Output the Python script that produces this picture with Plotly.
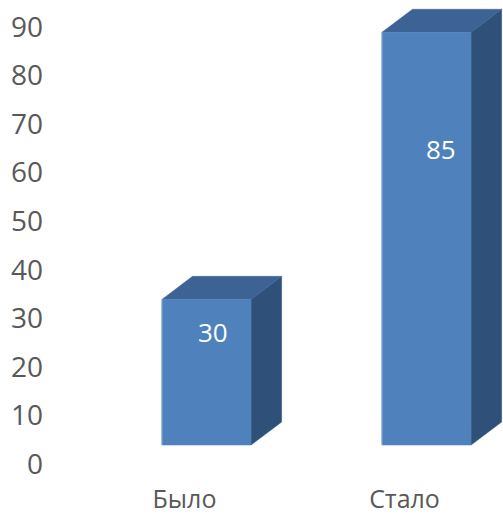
import plotly.graph_objects as go

# ---- data ----
categories = ["Было", "Стало"]
values = [30, 85]
y_ticks = [0, 10, 20, 30, 40, 50, 60, 70, 80, 90]

# ---- 3D styling constants (in axis units) ----
FRONT_OFF = 0.1      # front face centre offset from category position
FRONT_W = 0.405      # front face width
DEPTH_X = 0.139      # depth shift, x
DEPTH_Y = 4.74       # depth shift, y
FLOOR = 3.9          # front-face floor offset
LABEL_FRAC = [0.907, 0.762]  # data-label vertical placement (fraction of value)

C_FRONT = "#4F81BD"
C_TOP = "#3D6294"
C_SIDE = "#2F5179"

fig = go.Figure()
xs = list(range(len(categories)))
for i, v in zip(xs, values):
    x0 = i + FRONT_OFF - FRONT_W / 2
    x1 = i + FRONT_OFF + FRONT_W / 2
    yb = FLOOR
    yt = FLOOR + v
    # side face
    fig.add_trace(go.Scatter(
        x=[x1, x1, x1 + DEPTH_X, x1 + DEPTH_X, x1],
        y=[yb, yt, yt + DEPTH_Y, yb + DEPTH_Y, yb],
        fill="toself", fillcolor=C_SIDE, mode="lines",
        line=dict(color=C_SIDE, width=0.5), hoverinfo="skip"))
    # top face
    fig.add_trace(go.Scatter(
        x=[x0, x0 + DEPTH_X, x1 + DEPTH_X, x1, x0],
        y=[yt, yt + DEPTH_Y, yt + DEPTH_Y, yt, yt],
        fill="toself", fillcolor=C_TOP, mode="lines",
        line=dict(color=C_TOP, width=0.5), hoverinfo="skip"))
    # front face
    fig.add_trace(go.Scatter(
        x=[x0, x1, x1, x0, x0],
        y=[yb, yb, yt, yt, yb],
        fill="toself", fillcolor=C_FRONT, mode="lines",
        line=dict(color=C_FRONT, width=0.5), hoverinfo="skip"))
    # light left edge of the front face
    fig.add_trace(go.Scatter(
        x=[x0, x0], y=[yb, yt], mode="lines",
        line=dict(color="#8FB0DA", width=1), hoverinfo="skip"))

label_xshift = [6, 14]
for i, (v, f) in enumerate(zip(values, LABEL_FRAC)):
    fig.add_annotation(x=i + FRONT_OFF, y=v * f, text=str(v), showarrow=False,
                       xshift=label_xshift[i],
                       font=dict(family="Open Sans", size=26, color="white"))

L = 48
fig.update_layout(
    width=503, height=516,
    margin=dict(l=L, r=0, t=0, b=36, autoexpand=False),
    paper_bgcolor="white", plot_bgcolor="white",
    showlegend=False,
    xaxis=dict(range=[(L - 184.5) / 220, (503 - 184.5) / 220], automargin=False,
               tickvals=xs, ticktext=categories, showgrid=False, zeroline=False,
               showline=False, ticks="", ticklabelstandoff=2,
               tickfont=dict(family="Open Sans", size=25, color="#595959")),
    yaxis=dict(range=[-3.295, 95.55], tickvals=y_ticks, showgrid=False, automargin=False,
               zeroline=False, showline=False, ticks="", ticklabelstandoff=4,
               tickfont=dict(family="Open Sans", size=28, color="#595959")),
)
fig.write_html("out.html", config={"displayModeBar": False, "staticPlot": True},
               post_script="document.body.style.margin='0';document.body.style.overflow='hidden';")
